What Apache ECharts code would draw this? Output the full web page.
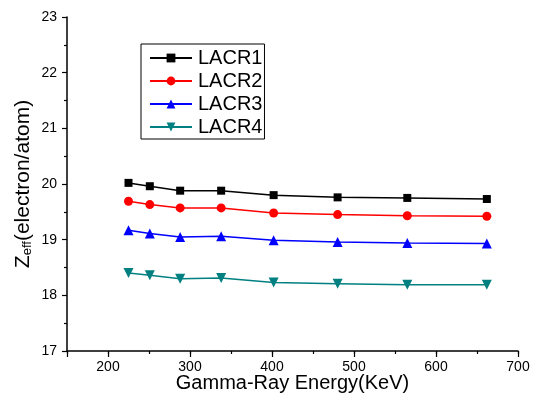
<!DOCTYPE html>
<html>
<head>
<meta charset="utf-8">
<script src="https://cdn.jsdelivr.net/npm/echarts@6/dist/echarts.min.js"></script>
<style>
  html, body { margin: 0; padding: 0; background: #fff; }
  #chart { width: 538px; height: 396px; }
</style>
</head>
<body>
<div id="chart"></div>
<script>
const energies = [225, 251, 288, 338, 402, 480, 565, 662];
const lacr1 = [20.02, 19.96, 19.88, 19.88, 19.80, 19.76, 19.75, 19.73];
const lacr2 = [19.69, 19.63, 19.57, 19.57, 19.48, 19.45, 19.43, 19.42];
const lacr3 = [19.17, 19.11, 19.05, 19.06, 18.99, 18.96, 18.94, 18.93];
const lacr4 = [18.40, 18.36, 18.30, 18.31, 18.23, 18.21, 18.19, 18.19];
const seriesNames = ["LACR1", "LACR2", "LACR3", "LACR4"];

const chart = echarts.init(document.getElementById("chart"), null, { renderer: "canvas" });
const font = "Liberation Sans, Arial, sans-serif";

function pairs(ys) {
  return energies.map((x, i) => [x, ys[i]]);
}

function makeSeries(name, ys, color, symbol, size, rotate) {
  return {
    name,
    type: "line",
    data: pairs(ys),
    symbol,
    symbolSize: size,
    symbolRotate: rotate || 0,
    showAllSymbol: true,
    lineStyle: { color, width: 1.5 },
    itemStyle: { color },
    emphasis: { disabled: true },
    animation: false,
  };
}

chart.setOption({
  backgroundColor: "#fff",
  textStyle: { fontFamily: font },
  grid: { left: 67, right: 20, top: 17, bottom: 45, containLabel: false, outerBoundsMode: "none" },
  legend: {
    orient: "vertical",
    left: 141,
    top: 44,
    padding: [4, 2, 2, 8],
    itemGap: 3,
    itemWidth: 42,
    itemHeight: 11,
    borderColor: "#000",
    borderWidth: 1,
    textStyle: { fontFamily: font, fontSize: 20, lineHeight: 20, color: "#000", padding: [0, 0, 0, 1] },
    data: seriesNames,
  },
  xAxis: [
    {
      type: "value",
      position: "bottom",
      min: 150,
      max: 700,
      interval: 50,
      name: "Gamma-Ray Energy(KeV)",
      nameLocation: "middle",
      nameGap: 22,
      nameMoveOverlap: false,
      nameTextStyle: { fontFamily: font, fontSize: 20, color: "#000" },
      axisLine: { lineStyle: { color: "#000", width: 1.5 } },
      axisTick: { show: true, inside: false, length: 3, lineStyle: { color: "#000", width: 1.2 } },
      axisLabel: {
        color: "#000",
        fontSize: 14,
        margin: 9,
        formatter: (v) => (v % 100 === 0 ? String(v) : ""),
      },
      splitLine: { show: false },
    },
    {
      // longer major ticks every 100
      type: "value",
      position: "bottom",
      min: 150,
      max: 700,
      splitNumber: 5,
      axisLine: { show: false },
      axisTick: { show: true, inside: false, length: 6, lineStyle: { color: "#000", width: 1.2 } },
      axisLabel: { show: false },
      splitLine: { show: false },
    },
  ],
  yAxis: {
    type: "value",
    min: 17,
    max: 23,
    interval: 1,
    name: "{z|Z}{s|eff}{z|(electron/atom)}",
    nameLocation: "middle",
    nameGap: 33,
    nameMoveOverlap: false,
    nameTextStyle: {
      rich: {
        z: { fontFamily: font, fontSize: 21, color: "#000" },
        s: { fontFamily: font, fontSize: 13, color: "#000", verticalAlign: "bottom", padding: [9, 0, 0, 0] },
      },
    },
    axisLine: { show: true, lineStyle: { color: "#000", width: 1.5 } },
    axisTick: { show: true, inside: false, length: 5, lineStyle: { color: "#000", width: 1.2 } },
    minorTick: { show: true, splitNumber: 2, length: 3, lineStyle: { color: "#000", width: 1.2 } },
    axisLabel: { color: "#000", fontSize: 14, margin: 10 },
    splitLine: { show: false },
  },
  series: [
    makeSeries(seriesNames[0], lacr1, "#000000", "rect", 8),
    makeSeries(seriesNames[1], lacr2, "#ff0000", "circle", 9),
    makeSeries(seriesNames[2], lacr3, "#0000ff", "triangle", 10),
    makeSeries(seriesNames[3], lacr4, "#008080", "triangle", 10, 180),
  ],
});

window.addEventListener("resize", () => chart.resize());
</script>
</body>
</html>
